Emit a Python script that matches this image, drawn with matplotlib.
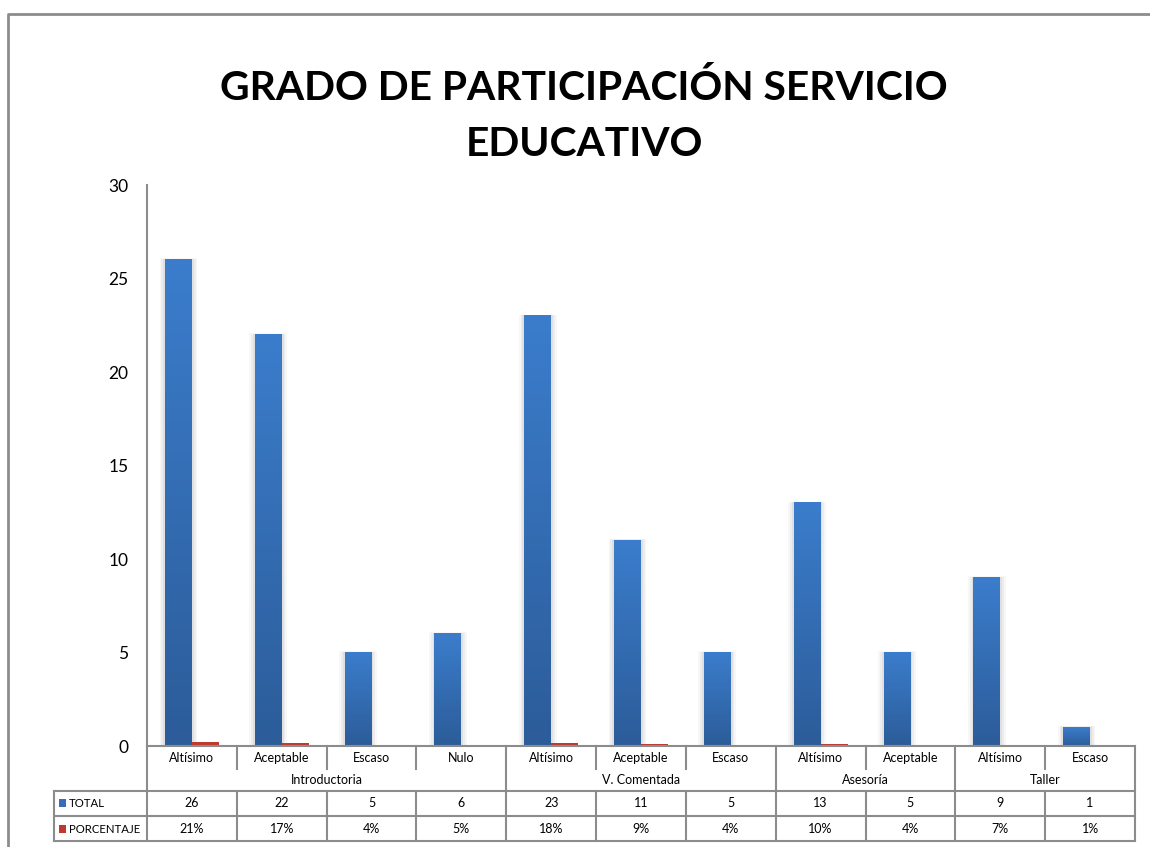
import matplotlib
matplotlib.use("Agg")
import matplotlib.pyplot as plt
import numpy as np
from matplotlib.transforms import blended_transform_factory
from matplotlib.colors import LinearSegmentedColormap
from matplotlib.patches import Rectangle
from matplotlib.lines import Line2D

plt.rcParams['font.family'] = ['Lato', 'DejaVu Sans']

# ---------------- data ----------------
subcategories = ["Altísimo", "Aceptable", "Escaso", "Nulo",
                 "Altísimo", "Aceptable", "Escaso",
                 "Altísimo", "Aceptable",
                 "Altísimo", "Escaso"]
groups = ["Introductoria", "V. Comentada", "Asesoría", "Taller"]
group_sizes = [4, 3, 2, 2]
total = [26, 22, 5, 6, 23, 11, 5, 13, 5, 9, 1]
porcentaje = [0.21, 0.17, 0.04, 0.05, 0.18, 0.09, 0.04, 0.10, 0.04, 0.07, 0.01]
porcentaje_labels = ["21%", "17%", "4%", "5%", "18%", "9%", "4%", "10%", "4%", "7%", "1%"]
series_names = ["TOTAL", "PORCENTAJE"]
yticks = [0, 5, 10, 15, 20, 25, 30]
title = "GRADO DE PARTICIPACIÓN SERVICIO\nEDUCATIVO"

W, H = 1150, 847
fig = plt.figure(figsize=(W / 100, H / 100), dpi=100)
fig.patch.set_facecolor("white")

def fx(px):
    return px / W

def fy(py):
    return 1 - py / H

ax_left, ax_right, ax_top, ax_bottom = 147, 1135, 185, 746
ax = fig.add_axes([fx(ax_left), fy(ax_bottom), fx(ax_right - ax_left), (ax_bottom - ax_top) / H])
n = len(subcategories)
ax.set_xlim(-0.5, n - 0.5)
ax.set_ylim(0, 30)
for s in ["top", "right", "bottom"]:
    ax.spines[s].set_visible(False)
ax.spines["left"].set_color("#8c8c8c")
ax.spines["left"].set_linewidth(1.5)
ax.set_xticks([])
ax.set_yticks(yticks)
ax.tick_params(axis="y", length=0, labelsize=12.5, pad=13.5)
ax.patch.set_alpha(0)

x = np.arange(n)
bw = 0.3
blue_cmap = LinearSegmentedColormap.from_list("b", ["#2c5c99", "#3b7dcc"])
grad = np.linspace(0, 1, 256).reshape(-1, 1)

# shadows + bars
for xi, v in zip(x, total):
    x0 = xi - bw
    for k, a in enumerate([0.05, 0.04, 0.03]):
        d = 0.02 * (k + 1)
        ax.add_patch(Rectangle((x0 - d, 0), bw + 2 * d, v + d * 1.2, color="#000000",
                               alpha=a, lw=0, zorder=1))
    ax.imshow(grad, cmap=blue_cmap, origin="lower", aspect="auto",
              extent=[x0, x0 + bw, 0, v], zorder=2)
ax.bar(x + bw / 2, porcentaje, width=bw, color="#c0392f", zorder=2)
ax.set_xlim(-0.5, n - 0.5)
ax.set_ylim(0, 30)

# ---------------- category axis & data table ----------------
tr = blended_transform_factory(ax.transData, fig.transFigure)
lc = "#8c8c8c"
lw = 1.5
xl = -0.5
xr = n - 0.5
label_left = xl - (ax_left - 54) / ((ax_right - ax_left) / n)

def hline(x0, x1, py):
    fig.add_artist(Line2D([x0, x1], [fy(py), fy(py)], transform=tr, color=lc, lw=lw))

def vline(xv, py0, py1):
    fig.add_artist(Line2D([xv, xv], [fy(py0), fy(py1)], transform=tr, color=lc, lw=lw))

hline(xl, xr, ax_bottom)
hline(label_left, xr, 791)
hline(label_left, xr, 816)
hline(label_left, xr, 841)

# group boundaries
bounds = [0]
for g in group_sizes:
    bounds.append(bounds[-1] + g)
for b in bounds:
    vline(b - 0.5, ax_bottom, 841)
# subcategory dividers
for i in range(1, n):
    if i not in bounds:
        vline(i - 0.5, ax_bottom, 769)
        vline(i - 0.5, 791, 841)
vline(label_left, 791, 841)

fs = 9
for i, s in enumerate(subcategories):
    fig.text(i, fy(758), s, transform=tr, ha="center", va="center", fontsize=fs)
    fig.text(i, fy(803), str(total[i]), transform=tr, ha="center", va="center", fontsize=fs)
    fig.text(i, fy(829), porcentaje_labels[i], transform=tr, ha="center", va="center", fontsize=fs)
for gi, g in enumerate(groups):
    c = (bounds[gi] + bounds[gi + 1] - 1) / 2
    fig.text(c, fy(780), g, transform=tr, ha="center", va="center", fontsize=fs)

# legend keys in table
key_colors = ["#3a6db5", "#c0392f"]
for r, (name, col) in enumerate(zip(series_names, key_colors)):
    py = 803 if r == 0 else 829
    fig.add_artist(Rectangle((fx(59), fy(py) - 4 / H), 7 / W, 8 / H, transform=fig.transFigure,
                             color=col, lw=0))
    fig.text(fx(69), fy(py), name, ha="left", va="center", fontsize=8.2)

# title
fig.text(fx(584), fy(116), title, ha="center", va="center", fontsize=29.3,
         fontweight="bold", linespacing=1.62)

# outer frame
fig.add_artist(Line2D([fx(8), fx(8), 1.0], [0, fy(14), fy(14)], transform=fig.transFigure,
                      color="#8c8c8c", lw=2))

fig.savefig("out.png", dpi=100, facecolor="white")
